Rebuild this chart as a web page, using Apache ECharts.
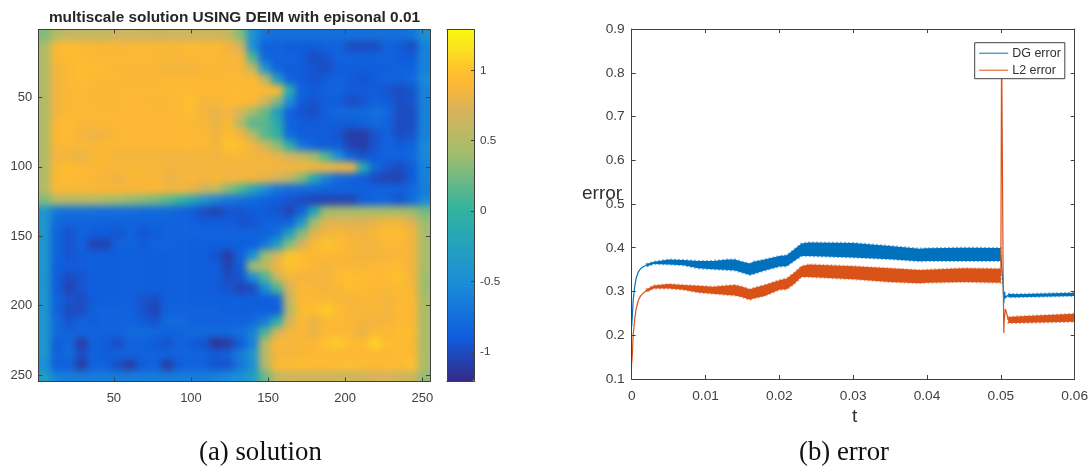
<!DOCTYPE html>
<html><head><meta charset="utf-8">
<script src="https://cdn.jsdelivr.net/npm/echarts@6/dist/echarts.min.js"></script>
<style>
html,body{margin:0;padding:0;background:#fff;width:1091px;height:466px;overflow:hidden}
#heatClip{position:absolute;left:38.3px;top:29.5px;width:391.7px;height:352px;overflow:hidden}
#heat{position:absolute;left:-36.72px;top:-33px;width:465.14px;height:418px;filter:blur(3.5px)}
#main{position:absolute;left:0;top:0;width:1091px;height:430px;filter:blur(.35px)}
#cap{position:absolute;left:0;top:430px;width:1091px;height:36px}
</style></head><body>
<div id="heatClip"><div id="heat"></div></div>
<div id="main"></div>
<div id="cap"></div>
<script>
// ---- values ----
const titleText = 'multiscale solution USING DEIM with episonal 0.01';
const heatTicks = [50,100,150,200,250];
const colorTicks = [-1,-0.5,0,0.5,1];
const colorMin = -1.21, colorMax = 1.29;
const parula = ['#352a87','#0f5cdd','#1a8ed8','#2fb3a0','#a3bd6c','#d8b25c','#fdb733','#fdc22e','#fbdf20','#f9f910'];
const parulaStops = [0,.125,.28,.484,.65,.77,.844,.884,.94,1];
// 32 x 32 field, top row first, each cell 8 samples wide
const heatRows = [
[.3,.5,.6,.6,.6,.6,.65,.65,.65,.65,.65,.65,.65,.65,.65,.6,.3,-.45,-.7,-.75,-.75,-.75,-.75,-.75,-.75,-.75,-.75,-.75,-.75,-.75,-.7,-.5],
[.45,.9,.95,.9,.88,.88,.88,.88,.92,.88,.88,.88,.95,.9,.92,.85,.7,-.5,-.85,-.85,-.9,-.9,-.9,-.85,-.85,-1,-1,-1,-.85,-.9,-1,-.6],
[.5,.9,.93,.92,.9,.9,.9,.9,.92,.9,.88,.88,.9,.9,.9,.88,.85,.1,-.8,-.85,-.85,-.9,-1,-.95,-.85,-.85,-.85,-.85,-.85,-.9,-.9,-.6],
[.5,.85,.9,.95,.95,.9,.88,.88,.88,.88,.85,.85,.85,.88,.88,.88,.88,.6,-.4,-.85,-.9,-.9,-.95,-1,-.9,-.9,-.9,-.9,-.9,-.85,-.85,-.6],
[.5,.85,.9,.95,.9,.9,.9,.88,.88,.88,.9,.9,.9,.9,.9,.9,.9,.9,.6,-.3,-.85,-.9,-.95,-.9,-.85,-.9,-.95,-.9,-.85,-.85,-.8,-.55],
[.5,.85,.9,.9,.88,.88,.88,.9,.9,.9,.92,.92,.92,.92,.92,.92,.92,.92,.92,.92,-.1,-.85,-.9,-.85,-.85,-.9,-.9,-.9,-.95,-1,-.95,-.6],
[.5,.85,.9,.9,.88,.88,.88,.9,.9,.88,.88,.9,.98,.85,.88,.92,.92,.9,.7,.3,-.5,-.9,-.95,-.9,-.9,-1,-.95,-.85,-.9,-1,-.95,-.6],
[.5,.85,.9,.9,.9,.9,.9,.9,.9,.9,.9,.9,.95,.85,.8,.85,.7,.4,.2,-.3,-.85,-.95,-1,-.85,-.8,-.8,-.8,-.75,-.8,-1,-1,-.6],
[.5,.9,.95,.88,.88,.9,.9,.9,.9,.9,.9,.9,.9,.88,.8,.9,.5,.15,.15,-.1,-.85,-.9,-.9,-.9,-.9,-.9,-.85,-.8,-.85,-1,-1,-.6],
[.5,.9,.95,.85,.82,.85,.88,.9,.9,.9,.9,.9,.92,.9,.85,.95,.85,.5,.15,0,-.8,-.9,-.9,-.9,-.95,-1.1,-1.1,-.95,-.85,-1,-.95,-.6],
[.5,.88,.9,.88,.88,.9,.9,.9,.9,.9,.9,.9,.9,.9,.85,1,.95,.85,.65,.35,-.1,-.7,-.85,-.9,-.9,-1.05,-1.1,-.95,-.85,-.9,-.85,-.55],
[.5,.85,.85,.8,.88,.88,.85,.85,.85,.85,.85,.85,.85,.85,.85,.88,.88,.85,.85,.8,.7,.6,.4,.1,-.5,-.85,-.95,-.9,-.85,-.85,-.8,-.55],
[.5,.9,.95,.9,.9,.88,.88,.88,.88,.88,.85,.85,.85,.85,.85,.85,.85,.85,.85,.85,.85,.85,.85,.85,.85,.85,-.1,-.8,-.95,-1,-.9,-.6],
[.5,.9,.95,.9,.88,.85,.82,.88,.88,.88,.82,.82,.88,.85,.88,.85,.85,.85,.8,.7,.55,.3,-.2,-.6,-.8,-.85,-.9,-1,-1.05,-1.05,-.9,-.6],
[.5,.9,.88,.88,.88,.88,.88,.88,.88,.88,.85,.85,.8,.65,.6,.3,.1,-.2,-.5,-.7,-.8,-.8,-.8,-.85,-.85,-.85,-.85,-.85,-.85,-.85,-.8,-.65],
[.3,.5,.5,.5,.5,.45,.4,.35,.3,.25,.15,0,-.2,-.45,-.6,-.7,-.75,-.8,-.85,-.9,-.95,-1,-1.05,-1.05,-1.05,-1.05,-.9,-.85,-.85,-.95,-.8,-.55],
[-.4,-.7,-.75,-.75,-.75,-.75,-.75,-.78,-.8,-.8,-.8,-.85,-.9,-1,-1.05,-.95,-.95,-.9,-.9,-.95,-1.05,-.85,-.2,.4,.45,.45,.45,.45,.45,.45,.4,.25],
[-.4,-.8,-.85,-.85,-.85,-.85,-.85,-.85,-.85,-.85,-.85,-.85,-.85,-.9,-.9,-.9,-.95,-.95,-.85,-.85,-.85,-.4,.4,.75,.75,.75,.75,.8,.85,.85,.75,.4],
[-.4,-.85,-.95,-.85,-.9,-.9,-.95,-.85,-.95,-.9,-.85,-.85,-.85,-.85,-.85,-.85,-.85,-.85,-.85,-.75,-.3,.3,.75,.85,.88,.85,.82,.88,.95,.95,.85,.45],
[-.4,-.85,-.95,-.85,-1.05,-1.05,-.85,-.85,-.9,-.85,-.85,-.88,-.88,-.88,-.88,-.88,-.88,-.88,-.7,-.3,.3,.7,.9,1,.95,.88,.85,.85,.9,.9,.85,.45],
[-.4,-.85,-.95,-.9,-.88,-.88,-.88,-.88,-.88,-.88,-.88,-.88,-.88,-.9,-.95,-1.1,-.85,-.5,.4,.7,1,.95,.9,.9,.9,.85,.85,.85,.85,.88,.85,.45],
[-.4,-.88,-.9,-.9,-.88,-.88,-.88,-.88,-.88,-.88,-.88,-.88,-.88,-.88,-.9,-1.05,-.9,.45,.55,.85,1,.95,.88,.85,.88,.88,.88,.9,.92,.95,.85,.45],
[-.4,-.9,-1,-.95,-.88,-.88,-.88,-.88,-.88,-.88,-.88,-.88,-.88,-.88,-.9,-1,-.95,-.5,.1,.6,.85,.85,.85,.85,.95,.98,.95,.92,.92,.98,.85,.4],
[-.4,-.9,-1.05,-.95,-.88,-.88,-.9,-.88,-.88,-.88,-.88,-.88,-.88,-.88,-.9,-.95,-1.05,-1,-.5,.1,.7,.9,.88,.85,.88,.95,.92,.9,.88,.92,.88,.4],
[-.4,-.85,-.95,-1,-.9,-.88,-.88,-.88,-.95,-1,-.88,-.88,-.88,-.88,-.88,-.88,-.88,-.88,-.88,-.85,.6,.9,.9,.9,.88,.85,.88,.88,.85,.9,.9,.45],
[-.4,-.85,-1,-1,-.85,-.85,-.85,-.85,-.95,-1.05,-.85,-.85,-.85,-.85,-.85,-.88,-.88,-.88,-.88,-.88,.5,.95,.95,1.05,.95,.88,.88,.88,.85,.92,.92,.45],
[-.4,-.8,-.95,-.85,-.88,-.85,-.85,-.85,-.9,-.95,-.8,-.8,-.85,-.85,-.85,-.85,-.85,-.8,-.65,-.1,.7,.9,.8,.9,.9,.88,.85,.85,.85,.9,.9,.45],
[-.4,-.8,-.85,-.85,-.85,-.85,-.85,-.8,-.8,-.8,-.85,-.85,-.8,-.8,-.8,-.8,-.75,-.6,.1,.7,.85,.88,.8,.9,.9,.88,.8,.92,.9,.95,.95,.45],
[-.4,-.9,-.8,-1.1,-.85,-.9,-1,-.85,-.85,-.9,-.95,-.85,-.9,-.95,-1.15,-1.1,-.9,-.6,.55,.9,.88,.88,.9,1,1.05,.95,.92,1.08,.95,.95,.9,.45],
[-.4,-.85,-.8,-1,-.85,-.9,-.85,-.85,-.85,-.85,-.85,-.85,-.85,-.85,-.9,-.85,-.65,-.4,.55,.85,.85,.88,.9,.9,.9,.9,.9,.9,.9,.92,.92,.45],
[-.5,-.9,-.85,-1.1,-.85,-.85,-1,-1.1,-.9,-.85,-1.1,-.9,-.85,-.85,-.95,-.95,-.7,-.5,.5,.9,.95,.95,.95,.95,.95,.98,.95,.92,.95,.95,1,.5],
[-.3,-.6,-.65,-.65,-.65,-.65,-.65,-.65,-.65,-.65,-.65,-.65,-.65,-.65,-.6,-.55,-.5,-.3,.2,.6,.65,.65,.65,.65,.65,.65,.65,.7,.7,.65,.65,.35]
];
// error curves: thin traces (null leaves the stretch covered by the envelopes below)
const dgT = [0,.0001,.0002,.0004,.0006,.0009,.0012,.0016,.002,.003,.0035,.05,.0503,.0504,.0505,.0506,.0508,.0515,.06];
const dgV = [.22,.25,.28,.31,.33,.345,.352,.357,.36,.366,null,.385,.315,.273,.3,.285,.29,.291,.293];
const l2T = [0,.0001,.0002,.0004,.0006,.0009,.0012,.0016,.002,.003,.0035,.05,.0501,.0502,.0503,.0504,.05045,.0506,.0508,.051,.06];
const l2V = [.135,.16,.2,.235,.26,.28,.29,.297,.302,.31,null,.336,.87,.62,.36,.205,.23,.26,.25,.235,.24];
// error curves: oscillation envelopes
const bandT = [.002,.003,.005,.007,.009,.011,.013,.014,.015,.016,.0165,.018,.02,.021,.022,.023,.024,.03,.035,.039,.04,.045,.05];
const dgUpper = [.363,.368,.373,.372,.37,.37,.373,.373,.368,.364,.368,.373,.381,.383,.396,.41,.412,.411,.404,.398,.399,.4,.3995];
const dgLower = [.357,.363,.362,.36,.353,.351,.349,.348,.343,.338,.34,.348,.357,.358,.37,.381,.381,.378,.374,.369,.37,.37,.37];
const l2Upper = [.305,.314,.317,.315,.313,.311,.314,.315,.311,.305,.308,.315,.326,.33,.343,.358,.362,.358,.353,.349,.35,.353,.352];
const l2Lower = [.299,.307,.307,.304,.298,.295,.292,.291,.287,.281,.284,.29,.304,.305,.317,.333,.333,.328,.322,.319,.32,.322,.32];
const tailT = [.051,.052,.06];
const dgTailUpper = [.295,.294,.297];
const dgTailLower = [.287,.287,.29];
const l2TailUpper = [.242,.243,.249];
const l2TailLower = [.228,.228,.231];
const blue = '#0072BD', orange = '#D95319', ink = '#404040';

// ---- heat layer ----
const pad = 3, n = heatRows.length;
const cats = Array.from({length:n+2*pad},(_,i)=>String(i));
const heatData = [];
cats.forEach((_,r)=>cats.forEach((_,c)=>{
  const rr=Math.min(n-1,Math.max(0,r-pad)), cc=Math.min(n-1,Math.max(0,c-pad));
  heatData.push([c,r,heatRows[rr][cc]]);
}));
const ramp = [];
(function(){
  // colour stops spread evenly for the visual map
  const hex=c=>[1,3,5].map(k=>parseInt(c.substr(k,2),16));
  for(let s=0;s<=100;s++){
    const t=s/100; let k=0; while(k<parulaStops.length-2&&t>parulaStops[k+1])k++;
    const f=(t-parulaStops[k])/(parulaStops[k+1]-parulaStops[k]), a=hex(parula[k]), b=hex(parula[k+1]);
    ramp.push('rgb('+a.map((v,i)=>Math.round(v+(b[i]-v)*f)).join(',')+')');
  }
})();
echarts.init(document.getElementById('heat')).setOption({
  animation:false,
  grid:{left:0,right:0,top:0,bottom:0},
  xAxis:{type:'category',data:cats,show:false},
  yAxis:{type:'category',data:cats,show:false,inverse:true},
  visualMap:{show:false,min:colorMin,max:colorMax,calculable:false,inRange:{color:ramp}},
  series:[{type:'heatmap',data:heatData,progressive:0,itemStyle:{borderWidth:0}}]
});

// ---- axes, colour bar, curves ----
const line = {show:true,lineStyle:{color:ink,width:1}};
const font = {color:ink,fontFamily:'Liberation Sans',fontSize:13};
function xAx(grid,pos,o){return Object.assign({type:'value',gridIndex:grid,position:pos,z:6,axisLine:Object.assign({onZero:false},line),splitLine:{show:false},axisTick:{show:true,inside:true,length:4,lineStyle:{color:ink}},axisLabel:{show:pos==='bottom',...font,margin:10}},o);}
function yAx(grid,pos,o){return Object.assign({type:'value',gridIndex:grid,position:pos,z:6,axisLine:Object.assign({onZero:false},line),splitLine:{show:false},axisTick:{show:true,inside:true,length:4,lineStyle:{color:ink}},axisLabel:{show:pos==='left',...font,margin:6,padding:[6,0,0,0]}},o);}
function custom(axis,vals,showLab){
  axis.axisTick.customValues=vals;
  axis.axisLabel.customValues=vals;
  if(showLab!==undefined)axis.axisLabel.show=showLab;
  return axis;
}
const hx={min:1,max:255}, hy={min:1,max:254.7,inverse:true};
const cbY={min:colorMin,max:colorMax};
const tx={min:0,max:.06,interval:.01}, ty={min:.1,max:.9,interval:.1};
const cbRight = custom(yAx(1,'right',cbY),colorTicks,true);
cbRight.axisLabel.fontSize=11.7; cbRight.axisLabel.margin=6; cbRight.axisLabel.padding=[2,0,0,0];
cbRight.axisTick.length=3;
function cbX(pos){const a=xAx(1,pos,{min:0,max:1});a.axisTick.show=false;a.axisLabel.show=false;return a;}
function cbL(){const a=yAx(1,'left',cbY);a.axisTick.show=false;a.axisLabel.show=false;return a;}
const xFmt=v=>v===0?'0':v.toFixed(2);
const rightX=xAx(2,'bottom',tx); rightX.axisLabel.fontSize=13.7; rightX.axisLabel.formatter=xFmt;
const rightY=yAx(2,'left',ty); rightY.axisLabel.fontSize=13.7; rightY.axisLabel.margin=7; rightY.axisLabel.padding=[4,0,0,0]; rightY.axisLabel.formatter=v=>v.toFixed(1);

function band(t,low,up,color,edge){
  return {type:'custom',xAxisIndex:4,yAxisIndex:4,silent:true,z:3,clip:true,
    data:t.map((x,i)=>[x,low[i],up[i]]),encode:{x:0,y:[1,2]},
    renderItem(params,api){
      if(params.dataIndex!==0)return null;
      const top=t.map((x,i)=>api.coord([x,up[i]]));
      const bot=t.map((x,i)=>api.coord([x,low[i]])).reverse();
      return {type:'polygon',shape:{points:top.concat(bot)},style:{fill:color,stroke:edge,lineWidth:2,lineDash:[2,2]}};
    }};
}
function trace(name,t,v,color){
  return {name,type:'line',xAxisIndex:4,yAxisIndex:4,connectNulls:false,data:t.map((x,i)=>[x,v[i]]),showSymbol:false,symbol:'none',lineStyle:{color,width:1.2},itemStyle:{color},z:3};
}
const blueEdge='rgba(0,114,189,.5)', orangeEdge='rgba(217,83,25,.5)';
const chart=echarts.init(document.getElementById('main'));
chart.setOption({
  animation:false,
  title:{text:titleText,left:229.5,textAlign:'center',top:5,textStyle:{fontFamily:'Liberation Sans',fontWeight:'bold',fontSize:15.4,color:'#262626'}},
  grid:[
    {left:38.3,top:29.5,width:391.7,height:352},
    {left:447,top:29.5,width:27,height:352},
    {left:631.7,top:29,width:446.4,height:350}
  ],
  xAxis:[custom(xAx(0,'bottom',hx),heatTicks),custom(xAx(0,'top',hx),heatTicks,false),cbX('bottom'),cbX('top'),rightX,xAx(2,'top',tx)],
  yAxis:[custom(yAx(0,'left',hy),heatTicks),custom(yAx(0,'right',hy),heatTicks,false),cbL(),cbRight,rightY,yAx(2,'right',ty)],
  visualMap:{show:true,seriesIndex:[],min:colorMin,max:colorMax,calculable:false,left:447,top:29.5,padding:0,itemWidth:27,itemHeight:352,showLabel:false,text:null,inRange:{color:ramp}},
  legend:{orient:'vertical',left:974.7,top:42.7,padding:[4,4,2,4.5],itemGap:4,itemWidth:29,itemHeight:12,icon:'path://M0 0H29V1H0Z',
    borderColor:ink,borderWidth:1,backgroundColor:'#fff',z:10,data:['DG error','L2 error'],
    textStyle:{fontFamily:'Liberation Sans',fontSize:12.5,color:'#303030',padding:[0,0,0,-1]}},
  graphic:[
    {type:'text',left:582,top:184,style:{text:'error',fontFamily:'Liberation Sans',fontSize:19,fill:'#303030'}},
    {type:'text',left:852,top:407,style:{text:'t',fontFamily:'Liberation Sans',fontSize:19,fill:'#303030'}}
  ],
  series:[
    trace('DG error',dgT,dgV,blue),
    band(bandT,dgLower,dgUpper,blue,blueEdge),
    band(tailT,dgTailLower,dgTailUpper,blue,blueEdge),
    trace('L2 error',l2T,l2V,orange),
    band(bandT,l2Lower,l2Upper,orange,orangeEdge),
    band(tailT,l2TailLower,l2TailUpper,orange,orangeEdge)
  ]
});
echarts.init(document.getElementById('cap')).setOption({
  animation:false,
  graphic:[
    {type:'text',left:199,top:9,style:{text:'(a) solution',fontFamily:'Liberation Serif',fontSize:26.8,fill:'#111'}},
    {type:'text',left:799,top:9,style:{text:'(b) error',fontFamily:'Liberation Serif',fontSize:26.8,fill:'#111'}}
  ]
});
</script>
</body></html>
